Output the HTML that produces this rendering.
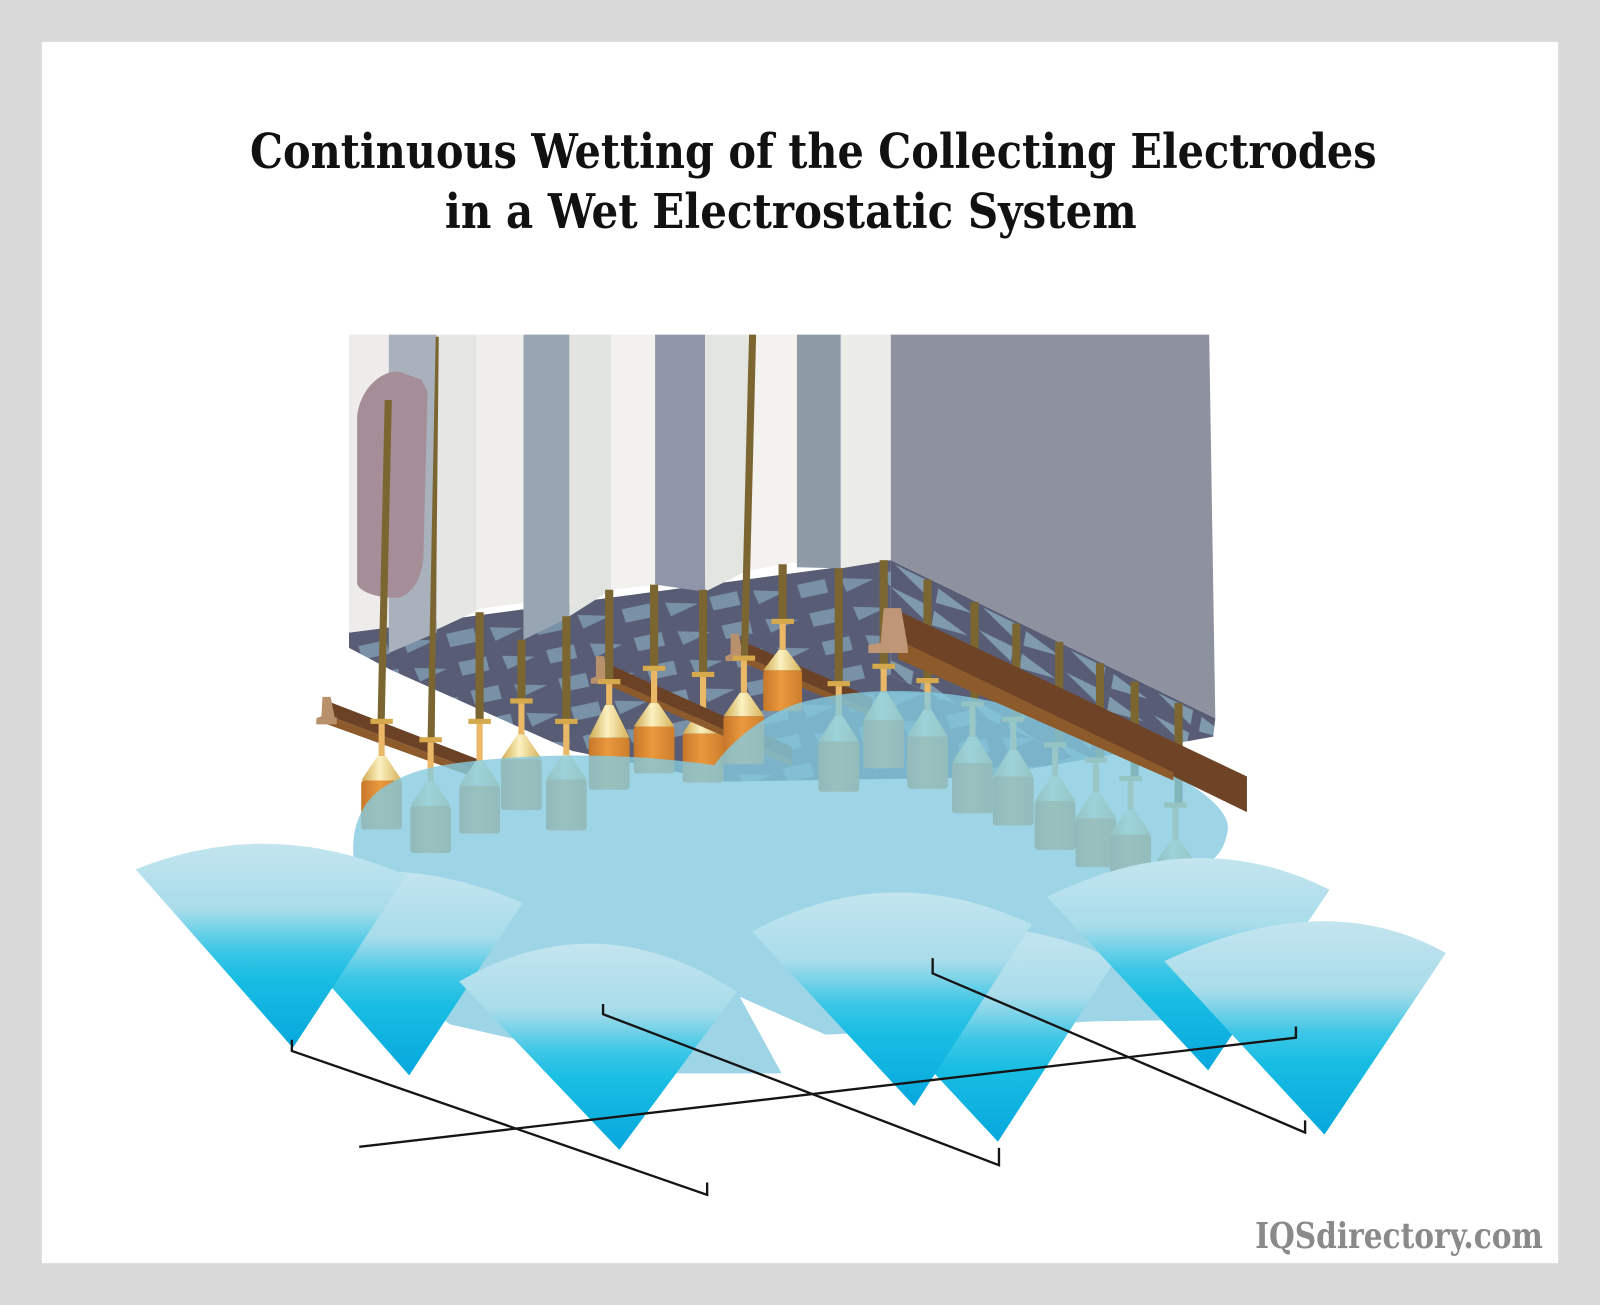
<!DOCTYPE html>
<html><head><meta charset="utf-8"><style>
html,body{margin:0;padding:0;background:#d9d9d9;}
svg{display:block;}
</style></head><body>
<svg width="1600" height="1305" viewBox="0 0 1568 1279" preserveAspectRatio="none" xmlns="http://www.w3.org/2000/svg">
<defs>
<linearGradient id="fanG" x1="0" y1="0" x2="0" y2="1">
<stop offset="0" stop-color="#c3e5ef"/><stop offset="0.32" stop-color="#a9dcea"/><stop offset="0.52" stop-color="#3dc7e6"/><stop offset="0.66" stop-color="#18bde3"/><stop offset="1" stop-color="#07a7dd"/>
</linearGradient>
<linearGradient id="coneG" x1="0" y1="0" x2="1" y2="0">
<stop offset="0" stop-color="#cfa84e"/><stop offset="0.45" stop-color="#fbf1c0"/><stop offset="1" stop-color="#d6b058"/>
</linearGradient>
<linearGradient id="cylG" x1="0" y1="0" x2="1" y2="0">
<stop offset="0" stop-color="#c7772a"/><stop offset="0.45" stop-color="#ea993d"/><stop offset="1" stop-color="#cd7e2c"/>
</linearGradient>
<pattern id="gp1" patternUnits="userSpaceOnUse" width="2" height="1" patternTransform="matrix(43,-6,12,28,342,628)">
<rect width="2" height="1" fill="#585c74"/>
<polygon points="0.15,0.22 0.8,0.15 0.75,0.62 0.12,0.68" fill="#7891a6"/>
<polygon points="1.15,0.2 1.85,0.38 1.15,0.68" fill="#7891a6"/>
</pattern>
<pattern id="gp2" patternUnits="userSpaceOnUse" width="2" height="1" patternTransform="matrix(43,21,-4,22,873,549)">
<rect width="2" height="1" fill="#585c74"/>
<polygon points="0.1,0.1 0.9,0.1 0.9,0.75" fill="#7f9aad"/>
<polygon points="1.1,0.2 1.9,0.55 1.1,0.85" fill="#7f9aad"/>
</pattern>
</defs>

<rect x="0" y="0" width="1568" height="1279" fill="#d9d9d9"/>
<rect x="41" y="41" width="1486" height="1197" fill="#ffffff"/>

<text x="245" y="164.6" font-family="DejaVu Serif, Liberation Serif, serif" font-weight="bold" font-size="47" fill="#111" textLength="1104" lengthAdjust="spacingAndGlyphs">Continuous Wetting of the Collecting Electrodes</text>
<text x="436" y="223.4" font-family="DejaVu Serif, Liberation Serif, serif" font-weight="bold" font-size="47" fill="#111" textLength="678" lengthAdjust="spacingAndGlyphs">in a Wet Electrostatic System</text>

<polygon points="342,620 873,549 873,662 1060,745 960,762 710,766 561,736 384,657 342,635" fill="url(#gp1)"/>
<polygon points="873,549 1191,704 1189,722 1060,745 873,662" fill="url(#gp2)"/>

<polygon points="342,328 381,328 381,615 342,620" fill="#eeeceb"/>
<polygon points="381,328 428,328 428,620 381,640" fill="#a8b1bc"/>
<polygon points="428,328 467,328 467,599 428,617" fill="#e6e6e5"/>
<polygon points="467,328 513,328 513,591 467,597" fill="#efeeeb"/>
<polygon points="513,328 558,328 558,605 513,627" fill="#98a6b4"/>
<polygon points="558,328 599,328 599,578 558,604" fill="#e1e4e1"/>
<polygon points="599,328 642,328 642,573 599,578" fill="#f3f1ee"/>
<polygon points="642,328 691,328 691,580 642,573" fill="#8f96a9"/>
<polygon points="691,328 733,328 733,559 691,580" fill="#e3e5e0"/>
<polygon points="733,328 781,328 781,551 733,559" fill="#f4f2ef"/>
<polygon points="781,328 824,328 824,557 781,556" fill="#8e9ba7"/>
<polygon points="824,328 873,328 873,549 824,557" fill="#ebebe7"/>
<polygon points="873,328 1185,328 1191,704 873,549" fill="#8e929f"/>

<path d="M350,408 C352,385 370,364 390,364 L413,372 L419,384 L415,545 C414,570 400,586 387,586 C370,586 352,580 350,572 Z" fill="#a58e97"/>

<polygon points="318,686 468,744 468,756 318,700" fill="#6b4226"/>
<polygon points="318,700 468,756 468,763 318,709" fill="#8d5a2b"/>
<polygon points="316,683 324,683 328,703 330,703 330,710 310,710 310,704 315,702" fill="#b8906c"/>
<polygon points="722,626 855,684 855,697 722,640" fill="#6b4226"/>
<polygon points="722,640 855,697 855,703 722,647" fill="#8d5a2b"/>
<polygon points="716,621 724,621 728,642 730,642 730,648 711,648 711,643 716,641" fill="#b8906c"/>

<polygon points="377,392 384,392 377,707 370,707" fill="#7b6631"/>
<polygon points="427,330 430,330 426,725 419,725" fill="#7b6631"/>
<polygon points="734,328 741,328 733,645 726,645" fill="#7b6631"/>

<g>
<rect x="685" y="578" width="8" height="83" fill="#7b6631"/>
<rect x="678" y="658.5" width="22" height="5" fill="#d6a94c"/>
<rect x="686" y="663.5" width="6" height="31.5" fill="#eab866"/>
<polygon points="685,695 693,695 709,719 669,719" fill="url(#coneG)"/>
<rect x="669" y="719" width="40" height="48" rx="3" fill="url(#cylG)"/>
</g>

<polygon points="590,648 776,732 776,745 590,662" fill="#6b4226"/>
<polygon points="590,662 776,745 776,751 590,669" fill="#8d5a2b"/>
<polygon points="584,643 592,643 596,664 598,664 598,670 579,670 579,665 584,663" fill="#b8906c"/>

<g>
<rect x="363" y="704.5" width="22" height="5" fill="#d6a94c"/>
<rect x="371" y="709.5" width="6" height="31.5" fill="#eab866"/>
<polygon points="370,741 378,741 394,765 354,765" fill="url(#coneG)"/>
<rect x="354" y="765" width="40" height="48" rx="3" fill="url(#cylG)"/>
<rect x="411" y="722.5" width="22" height="5" fill="#d6a94c"/>
<rect x="419" y="727.5" width="6" height="38.5" fill="#eab866"/>
<polygon points="418,766 426,766 442,790 402,790" fill="url(#coneG)"/>
<rect x="402" y="790" width="40" height="46" rx="3" fill="url(#cylG)"/>
<rect x="466" y="600" width="8" height="107" fill="#7b6631"/>
<rect x="459" y="704.5" width="22" height="5" fill="#d6a94c"/>
<rect x="467" y="709.5" width="6" height="36.5" fill="#eab866"/>
<polygon points="466,746 474,746 490,770 450,770" fill="url(#coneG)"/>
<rect x="450" y="770" width="40" height="47" rx="3" fill="url(#cylG)"/>
<rect x="507" y="627" width="8" height="60" fill="#7b6631"/>
<rect x="500" y="684.5" width="22" height="5" fill="#d6a94c"/>
<rect x="508" y="689.5" width="6" height="30.5" fill="#eab866"/>
<polygon points="507,720 515,720 531,744 491,744" fill="url(#coneG)"/>
<rect x="491" y="744" width="40" height="50" rx="3" fill="url(#cylG)"/>
<rect x="551" y="604" width="8" height="103" fill="#7b6631"/>
<rect x="544" y="704.5" width="22" height="5" fill="#d6a94c"/>
<rect x="552" y="709.5" width="6" height="30.5" fill="#eab866"/>
<polygon points="551,740 559,740 575,764 535,764" fill="url(#coneG)"/>
<rect x="535" y="764" width="40" height="50" rx="3" fill="url(#cylG)"/>
<rect x="593" y="578" width="8" height="90" fill="#7b6631"/>
<rect x="586" y="665.5" width="22" height="5" fill="#d6a94c"/>
<rect x="594" y="670.5" width="6" height="20.5" fill="#eab866"/>
<polygon points="593,691 601,691 617,723 577,723" fill="url(#coneG)"/>
<rect x="577" y="723" width="40" height="51" rx="3" fill="url(#cylG)"/>
<rect x="637" y="573" width="8" height="82" fill="#7b6631"/>
<rect x="630" y="652.5" width="22" height="5" fill="#d6a94c"/>
<rect x="638" y="657.5" width="6" height="31.5" fill="#eab866"/>
<polygon points="637,689 645,689 661,712 621,712" fill="url(#coneG)"/>
<rect x="621" y="712" width="40" height="46" rx="3" fill="url(#cylG)"/>
<rect x="718" y="642.5" width="22" height="5" fill="#d6a94c"/>
<rect x="726" y="647.5" width="6" height="31.5" fill="#eab866"/>
<polygon points="725,679 733,679 749,702 709,702" fill="url(#coneG)"/>
<rect x="709" y="702" width="40" height="47" rx="3" fill="url(#cylG)"/>
<rect x="763" y="553" width="8" height="56" fill="#7b6631"/>
<rect x="756" y="606.5" width="22" height="5" fill="#d6a94c"/>
<rect x="764" y="611.5" width="6" height="25.5" fill="#eab866"/>
<polygon points="763,637 771,637 786,657 748,657" fill="url(#coneG)"/>
<rect x="748" y="657" width="38" height="40" rx="3" fill="url(#cylG)"/>
<rect x="818" y="557" width="8" height="113" fill="#7b6631"/>
<rect x="811" y="667.5" width="22" height="5" fill="#d6a94c"/>
<rect x="819" y="672.5" width="6" height="29.5" fill="#eab866"/>
<polygon points="818,702 826,702 842,727 802,727" fill="url(#coneG)"/>
<rect x="802" y="727" width="40" height="49" rx="3" fill="url(#cylG)"/>
<rect x="862" y="549" width="8" height="104" fill="#7b6631"/>
<rect x="855" y="650.5" width="22" height="5" fill="#d6a94c"/>
<rect x="863" y="655.5" width="6" height="23.5" fill="#eab866"/>
<polygon points="862,679 870,679 886,706 846,706" fill="url(#coneG)"/>
<rect x="846" y="706" width="40" height="47" rx="3" fill="url(#cylG)"/>
<rect x="905" y="568" width="8" height="99" fill="#7b6631"/>
<rect x="898" y="664.5" width="22" height="5" fill="#d6a94c"/>
<rect x="906" y="669.5" width="6" height="26.5" fill="#eab866"/>
<polygon points="905,696 913,696 929,722 889,722" fill="url(#coneG)"/>
<rect x="889" y="722" width="40" height="51" rx="3" fill="url(#cylG)"/>
<rect x="951" y="590" width="8" height="100" fill="#7b6631"/>
<rect x="942" y="687.5" width="22" height="5" fill="#d6a94c"/>
<rect x="950" y="692.5" width="6" height="29.5" fill="#eab866"/>
<polygon points="949,722 957,722 973,748 933,748" fill="url(#coneG)"/>
<rect x="933" y="748" width="40" height="49" rx="3" fill="url(#cylG)"/>
<rect x="992" y="611" width="8" height="94" fill="#7b6631"/>
<rect x="982" y="702.5" width="22" height="5" fill="#d6a94c"/>
<rect x="990" y="707.5" width="6" height="27.5" fill="#eab866"/>
<polygon points="989,735 997,735 1013,761 973,761" fill="url(#coneG)"/>
<rect x="973" y="761" width="40" height="48" rx="3" fill="url(#cylG)"/>
<rect x="1034" y="629" width="8" height="101" fill="#7b6631"/>
<rect x="1023" y="727.5" width="22" height="5" fill="#d6a94c"/>
<rect x="1031" y="732.5" width="6" height="28.5" fill="#eab866"/>
<polygon points="1030,761 1038,761 1054,785 1014,785" fill="url(#coneG)"/>
<rect x="1014" y="785" width="40" height="48" rx="3" fill="url(#cylG)"/>
<rect x="1074" y="650" width="8" height="95" fill="#7b6631"/>
<rect x="1063" y="742.5" width="22" height="5" fill="#d6a94c"/>
<rect x="1071" y="747.5" width="6" height="29.5" fill="#eab866"/>
<polygon points="1070,777 1078,777 1094,802 1054,802" fill="url(#coneG)"/>
<rect x="1054" y="802" width="40" height="48" rx="3" fill="url(#cylG)"/>
<rect x="1108" y="668" width="8" height="95" fill="#7b6631"/>
<rect x="1097" y="760.5" width="22" height="5" fill="#d6a94c"/>
<rect x="1105" y="765.5" width="6" height="28.5" fill="#eab866"/>
<polygon points="1104,794 1112,794 1128,818 1088,818" fill="url(#coneG)"/>
<rect x="1088" y="818" width="40" height="40" rx="3" fill="url(#cylG)"/>
<rect x="1151" y="689" width="8" height="100" fill="#7b6631"/>
<rect x="1141" y="786.5" width="22" height="5" fill="#d6a94c"/>
<rect x="1149" y="791.5" width="6" height="31.5" fill="#eab866"/>
<polygon points="1148,823 1156,823 1170,843 1134,843" fill="url(#coneG)"/>
<rect x="1134" y="843" width="36" height="20" fill="url(#cylG)"/>
</g>

<path d="M347,845 C343,815 352,785 380,769 C400,757 420,752 440,749 C500,740 600,735 700,750 C715,730 740,705 780,690 C830,675 900,673 960,685 C1040,700 1110,735 1160,765 C1190,783 1206,800 1203,815 C1200,830 1195,838 1185,845 L1150,880 L1141,1000 L1072,1001 L900,1010 L809,1014 L725,977 L766,1052 L660,1052 L600,1040 L441,1004 L380,960 L350,880 Z" fill="#85cbe0" fill-opacity="0.8"/>

<polygon points="877,597 1222,761 1222,796 877,628" fill="#6e4326"/>
<polygon points="880,627 1150,757 1150,765 880,646" fill="#8d5a2b"/>
<polygon points="866,596 883,596 889,630 890,640 851,640 851,632 863,630" fill="#bf9776"/>

<path d="M978,1119 L819,948 Q954,875 1093,941 Z" fill="url(#fanG)"/>
<path d="M896,1084 L737,913 Q872,840 1011,906 Z" fill="url(#fanG)"/>
<path d="M401,1054 L247,879 Q378,826 512,885 Z" fill="url(#fanG)"/>
<path d="M287,1027 L133,852 Q264.5,799 398,858 Z" fill="url(#fanG)"/>
<path d="M607,1127 L450,962 Q586,883 722,972 Z" fill="url(#fanG)"/>
<path d="M1184,1049 L1026,879 Q1173.5,806.5 1303,872 Z" fill="url(#fanG)"/>
<path d="M1298,1112 L1141,942 Q1299,868 1417,934 Z" fill="url(#fanG)"/>

<g fill="none" stroke="#151515" stroke-width="2.3" stroke-linejoin="miter">
<polyline points="286,1019 286,1030 693,1171 693,1159"/>
<polyline points="591,984 591,994 979,1142 979,1125"/>
<polyline points="914,939 914,954 1279,1110 1279,1098"/>
<polyline points="352,1124 1270,1017 1270,1006"/>
</g>

<text x="1230" y="1223" font-family="DejaVu Serif, Liberation Serif, serif" font-weight="bold" font-size="35" fill="#8a8a8a" textLength="282" lengthAdjust="spacingAndGlyphs">IQSdirectory.com</text>
</svg>
</body></html>
